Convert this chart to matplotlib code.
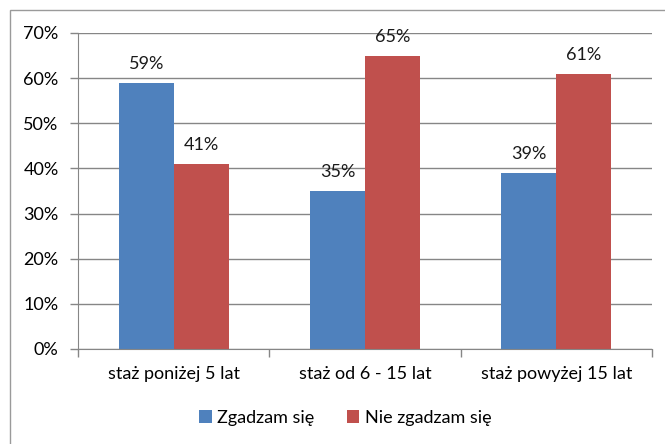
import numpy as np
import matplotlib.pyplot as plt
from matplotlib.patches import Rectangle
from matplotlib.ticker import PercentFormatter

# ---------- Data ----------
categories = ['staż poniżej 5 lat', 'staż od 6 - 15 lat', 'staż powyżej 15 lat']
agree = [59, 35, 39]
disagree = [41, 65, 61]
series_names = ['Zgadzam się', 'Nie zgadzam się']

BLUE = '#4F81BD'
RED = '#C0504D'
GRID = '#868686'
FS = 13

plt.rcParams['font.family'] = ['Lato', 'DejaVu Sans']

fig = plt.figure(figsize=(6.65, 4.44), dpi=100)
ax = fig.add_axes([0.1173, 0.214, 0.8632, 0.7117])

# outer chart border (only top/left visible in the original crop)
fig.patches.append(Rectangle((10 / 665, -0.1), 1.1, 1 - 10 / 444 + 0.1,
                             transform=fig.transFigure, fill=False,
                             edgecolor='#9a9a9a', linewidth=1))

x = np.arange(len(categories))
w = 0.287
b1 = ax.bar(x - w / 2, agree, w, color=BLUE, label=series_names[0])
b2 = ax.bar(x + w / 2, disagree, w, color=RED, label=series_names[1])

for bars, vals in ((b1, agree), (b2, disagree)):
    for bar, v in zip(bars, vals):
        ax.annotate(f'{v}%', (bar.get_x() + bar.get_width() / 2, v),
                    xytext=(0, 10), textcoords='offset points',
                    ha='center', va='baseline', fontsize=FS, color='#1a1a1a')

ax.set_xlim(-0.5, len(categories) - 0.5)
ax.set_ylim(0, 70)
ax.set_yticks(range(0, 71, 10))
ax.yaxis.set_major_formatter(PercentFormatter(decimals=0))
ax.grid(axis='y', color=GRID, linewidth=1)
ax.set_axisbelow(True)

ax.set_xticks(x)
ax.set_xticklabels(categories)
ax.set_xticks(np.arange(-0.5, len(categories), 1), minor=True)
ax.tick_params(axis='x', which='major', length=0, pad=12, labelsize=FS)
ax.tick_params(axis='x', which='minor', length=6, color=GRID, width=1)
ax.tick_params(axis='y', length=6, color=GRID, width=1, pad=8, labelsize=FS)

for s in ('top', 'right'):
    ax.spines[s].set_visible(False)
ax.spines['left'].set_color(GRID)
ax.spines['bottom'].set_color(GRID)

fig.legend(loc='center', bbox_to_anchor=(0.519, 0.0586), ncol=2, frameon=False,
           fontsize=FS, handlelength=0.7, handleheight=0.7, handletextpad=0.3,
           columnspacing=1.8)

fig.savefig('out.png', dpi=100)
